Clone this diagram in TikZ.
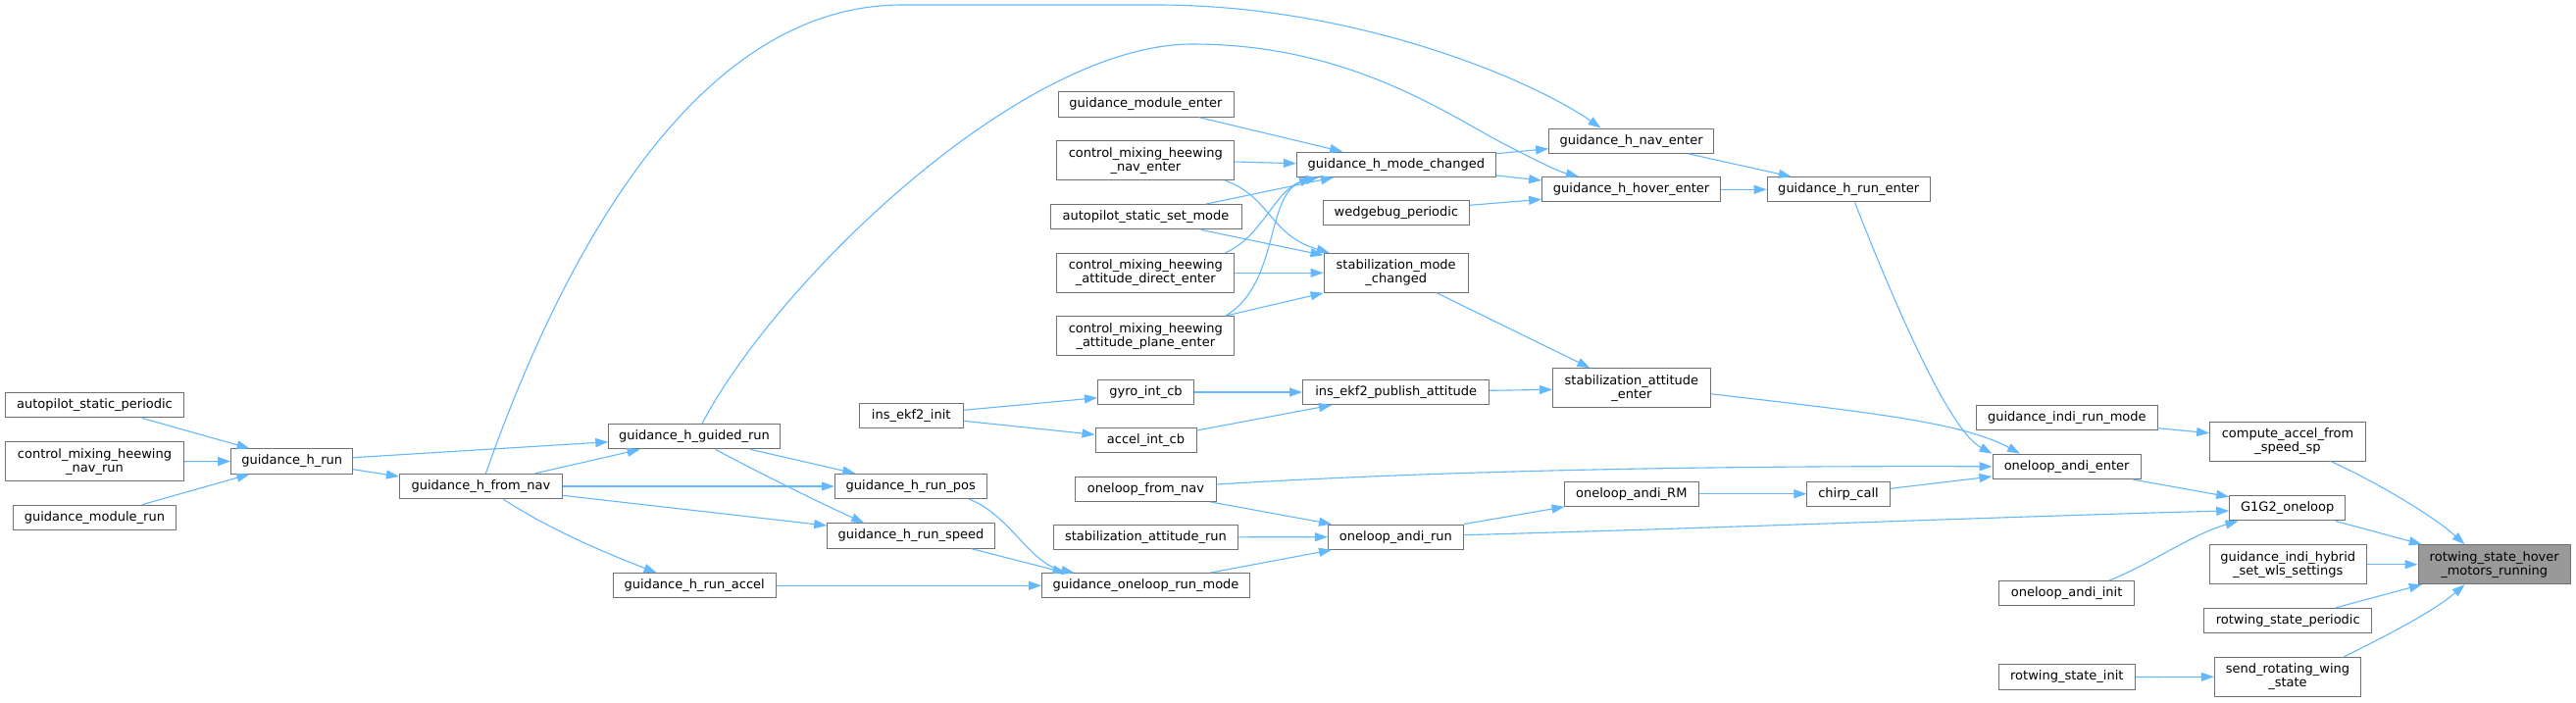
\documentclass[tikz,border=0pt]{standalone}
\usepackage{fontspec}
\setmainfont{DejaVu Sans}
\usetikzlibrary{arrows.meta}
\definecolor{edgec}{HTML}{63B8FF}
\definecolor{bordc}{HTML}{707070}
\definecolor{hilc}{HTML}{999999}
\begin{document}
\begin{tikzpicture}[x=1pt,y=-1pt,
  box/.style={draw=bordc, line width=1pt, fill=white, inner xsep=2pt, inner ysep=1pt,
    minimum height=25.3pt, font=\fontsize{13}{14}\selectfont, align=center},
  dbl/.style={box, minimum height=40pt},
  conn/.style={draw=edgec, line width=1.1pt, -{Triangle[length=13pt,width=9pt]}}]
\useasboundingbox[fill=white] (0,0) rectangle (2627,716);
% column 1
\node[box, minimum width=182pt] (asp) at (96.5,413.3) {autopilot\_static\_periodic};
\node[dbl, minimum width=182pt] (cmnr) at (96.5,470.7) {control\_mixing\_heewing\\\_nav\_run};
\node[box, minimum width=166pt] (gmr) at (96.4,527.8) {guidance\_module\_run};
% column 2,3
\node[box, minimum width=124pt] (ghr) at (297.7,470.5) {guidance\_h\_run};
\node[box, minimum width=166pt] (ghfn) at (490.4,496) {guidance\_h\_from\_nav};
% column 4
\node[box, minimum width=174.5pt] (ghgr) at (708,445.2) {guidance\_h\_guided\_run};
\node[box, minimum width=165.6pt] (ghra) at (708.2,597.3) {guidance\_h\_run\_accel};
% column 5
\node[box, minimum width=155pt] (ghrp) at (928.8,496) {guidance\_h\_run\_pos};
\node[box, minimum width=170.6pt] (ghrs) at (929,546.5) {guidance\_h\_run\_speed};
\node[box, minimum width=106pt] (iei) at (929.2,423.8) {ins\_ekf2\_init};
% column 6
\node[box, minimum width=179pt] (gme) at (1168.5,106.5) {guidance\_module\_enter};
\node[dbl, minimum width=181pt] (cmne) at (1168.3,163.8) {control\_mixing\_heewing\\\_nav\_enter};
\node[box, minimum width=195pt] (assm) at (1168.5,221.3) {autopilot\_static\_set\_mode};
\node[dbl, minimum width=181pt] (cmad) at (1168.3,278.3) {control\_mixing\_heewing\\\_attitude\_direct\_enter};
\node[dbl, minimum width=181pt] (cmap) at (1168.3,342.7) {control\_mixing\_heewing\\\_attitude\_plane\_enter};
\node[box, minimum width=98pt] (gic) at (1168.5,400) {gyro\_int\_cb};
\node[box, minimum width=103pt] (aic) at (1168.5,449.3) {accel\_int\_cb};
\node[box, minimum width=143.4pt] (ofn) at (1168.5,498.7) {oneloop\_from\_nav};
\node[box, minimum width=188pt] (sar) at (1168.5,547.8) {stabilization\_attitude\_run};
\node[box, minimum width=212pt] (gorm) at (1168.5,597.3) {guidance\_oneloop\_run\_mode};
% column 7
\node[box, minimum width=203pt] (ghmc) at (1423.9,167.8) {guidance\_h\_mode\_changed};
\node[box, minimum width=148.6pt] (wp) at (1423.9,217.2) {wedgebug\_periodic};
\node[dbl, minimum width=147.3pt] (smc) at (1423.7,278.3) {stabilization\_mode\\\_changed};
\node[box, minimum width=190pt] (iepa) at (1423.7,400) {ins\_ekf2\_publish\_attitude};
\node[box, minimum width=138pt] (oar) at (1423.4,547.7) {oneloop\_andi\_run};
% column 8
\node[box, minimum width=168pt] (ghne) at (1663.6,143.7) {guidance\_h\_nav\_enter};
\node[box, minimum width=182pt] (ghhe) at (1663.6,193.3) {guidance\_h\_hover\_enter};
\node[dbl, minimum width=160.7pt] (sae) at (1663.9,395.7) {stabilization\_attitude\\\_enter};
\node[box, minimum width=137.6pt] (oarm) at (1663.8,503.7) {oneloop\_andi\_RM};
% column 9
\node[box, minimum width=166pt] (ghre) at (1885.2,193.3) {guidance\_h\_run\_enter};
\node[box, minimum width=84.3pt] (cc) at (1885,503.7) {chirp\_call};
% column 10
\node[box, minimum width=184.4pt] (girm) at (2107.8,426.2) {guidance\_indi\_run\_mode};
\node[box, minimum width=151.2pt] (oae) at (2107.6,475.8) {oneloop\_andi\_enter};
\node[box, minimum width=137.3pt] (oai) at (2107.6,605.2) {oneloop\_andi\_init};
\node[box, minimum width=138.6pt] (rsi) at (2107.8,690.5) {rotwing\_state\_init};
% column 11
\node[dbl, minimum width=158.8pt] (cafs) at (2333,450.3) {compute\_accel\_from\\\_speed\_sp};
\node[box, minimum width=118pt] (g1g2) at (2332.7,518.3) {G1G2\_oneloop};
\node[dbl, minimum width=160.2pt] (wls) at (2333.2,575.7) {guidance\_indi\_hybrid\\\_set\_wls\_settings};
\node[box, minimum width=170.5pt] (rsp) at (2333.2,633) {rotwing\_state\_periodic};
\node[dbl, minimum width=149.4pt] (srws) at (2333,690.3) {send\_rotating\_wing\\\_state};
% column 12
\node[dbl, minimum width=155.4pt, fill=hilc] (rot) at (2543.7,575.7) {rotwing\_state\_hover\\\_motors\_running};

% edges
\draw[conn] ([xshift=48.5pt]asp.south) -- ([xshift=-43.2pt]ghr.north);
\draw[conn] (cmnr.east) -- (ghr.west);
\draw[conn] ([xshift=48.6pt]gmr.north) -- ([xshift=-43.2pt]ghr.south);
\draw[conn] ([yshift=3.8pt]ghr.east) -- ([yshift=-5.5pt]ghgr.west);
\draw[conn] ([yshift=-8.2pt]ghr.east) -- ([yshift=10pt]ghfn.west);
\draw[conn] ([xshift=55pt]ghfn.north) -- ([xshift=-55.4pt]ghgr.south);
\draw[conn] (ghfn.east) -- (ghrp.west);
\draw[conn] ([yshift=-9.3pt]ghfn.east) -- ([yshift=10.5pt]ghrs.west);
\draw[conn] ([xshift=23pt]ghfn.south) .. controls (560,540) and (620,565) .. ([xshift=-38.6pt]ghra.north);
\draw[conn] ([xshift=5pt]ghfn.north) .. controls (565,285) and (700,5) .. (920,5) -- (1180,5) .. controls (1380,5) and (1560,80) .. ([xshift=-31pt]ghne.north);
\draw[conn] ([xshift=8pt]ghgr.north) .. controls (790,290) and (1040,45) .. (1216,45) .. controls (1380,45) and (1480,120) .. (1540,150) .. controls (1575,168) and (1590,175) .. ([xshift=-53.6pt]ghhe.north);
\draw[conn] ([xshift=57.2pt]ghgr.south) -- ([xshift=-56.5pt]ghrp.north);
\draw[conn] ([xshift=21.5pt]ghgr.south) .. controls (770,480) and (830,510) .. ([xshift=-47.8pt]ghrs.north);
\draw[conn] ([xshift=59.6pt]ghrp.south) .. controls (1030,525) and (1050,575) .. ([xshift=-73pt]gorm.north);
\draw[conn] ([xshift=61.6pt]ghrs.south) -- ([xshift=-82pt]gorm.north);
\draw[conn] (ghra.east) -- (gorm.west);
\draw[conn] ([xshift=65.5pt]gorm.north) -- ([xshift=-65.4pt]oar.south);
\draw[conn] ([xshift=65.5pt]ofn.south) -- ([xshift=-65.4pt]oar.north);
\draw[conn] (sar.east) -- (oar.west);
\draw[conn] ([yshift=4.7pt]ofn.east) .. controls (1500,478) and (1800,475) .. (oae.west);
\draw[conn] (oar.north east) -- ([xshift=1pt]oarm.south west);
\draw[conn] (oarm.east) -- (cc.west);
\draw[conn] ([yshift=5.4pt]cc.east) -- ([yshift=-10.2pt]oae.west);
\draw[conn] ([yshift=2pt]oar.east) .. controls (1800,537) and (2100,525) .. ([yshift=-2.7pt]g1g2.west);
\draw[conn] ([xshift=67pt]oae.south) -- ([yshift=11.6pt]g1g2.west);
\draw[conn] ([xshift=43.2pt]oai.north) .. controls (2190,577) and (2235,545) .. ([xshift=-50.2pt]g1g2.south);
\draw[conn] ([yshift=5.5pt]iei.east) -- ([yshift=-5.7pt]gic.west);
\draw[conn] ([yshift=-5.5pt]iei.east) -- ([yshift=6pt]aic.west);
\draw[conn] (gic.east) -- (iepa.west);
\draw[conn] ([yshift=10.3pt]aic.east) -- ([xshift=-65.7pt]iepa.south);
\draw[conn] ([yshift=1.7pt]iepa.east) -- ([yshift=-1.6pt]sae.west);
\draw[conn] ([xshift=41.5pt]smc.south) -- ([xshift=-42.5pt]sae.north);
\draw[conn] ([yshift=-6pt]sae.east) .. controls (1900,420) and (2000,430) .. ([xshift=-47.6pt]oae.north);
\draw[conn] ([xshift=6.3pt]ghre.south) .. controls (1940,330) and (1990,440) .. (oae.north west);
\draw[conn] ([xshift=54.2pt]gme.south) -- ([xshift=-54.7pt]ghmc.north);
\draw[conn] ([yshift=-1.2pt]cmne.east) -- ([yshift=1.1pt]ghmc.west);
\draw[conn] ([xshift=60.9pt]assm.north) -- ([xshift=-63.9pt]ghmc.south);
\draw[conn] ([xshift=81.2pt]cmad.north) .. controls (1290,240) and (1300,190) .. ([xshift=-79.3pt]ghmc.south);
\draw[conn] ([xshift=81.2pt]cmap.north) .. controls (1305,290) and (1290,200) .. ([xshift=-85.9pt]ghmc.south);
\draw[conn] ([xshift=81.2pt]cmne.south) .. controls (1295,200) and (1295,240) .. ([xshift=-68pt]smc.north);
\draw[conn] ([xshift=56.5pt]assm.south) -- ([yshift=18pt]smc.west);
\draw[conn] (cmad.east) -- (smc.west);
\draw[conn] ([xshift=81.2pt]cmap.north) -- (smc.south west);
\draw[conn] ([yshift=11.1pt]ghmc.east) -- ([yshift=-8pt]ghne.west);
\draw[conn] ([yshift=-11.2pt]ghmc.east) -- ([yshift=9.3pt]ghhe.west);
\draw[conn] ([yshift=7.9pt]wp.east) -- ([yshift=-10pt]ghhe.west);
\draw[conn] ([xshift=58.3pt]ghne.south) -- ([xshift=-58.4pt]ghre.north);
\draw[conn] (ghhe.east) -- (ghre.west);
\draw[conn] ([yshift=-10.5pt]girm.east) -- ([yshift=8.6pt]cafs.west);
\draw[conn] ([xshift=44.5pt]cafs.south) .. controls (2420,490) and (2480,525) .. ([xshift=-30.2pt]rot.north);
\draw[conn] ([xshift=49pt]g1g2.south) -- ([xshift=4.3pt]rot.north west);
\draw[conn] (wls.east) -- (rot.west);
\draw[conn] ([xshift=48.6pt]rsp.north) -- ([xshift=4.3pt]rot.south west);
\draw[conn] ([xshift=57.4pt]srws.north) .. controls (2430,650) and (2480,625) .. ([xshift=-30.2pt]rot.south);
\draw[conn] (rsi.east) -- (srws.west);
\end{tikzpicture}
\end{document}
